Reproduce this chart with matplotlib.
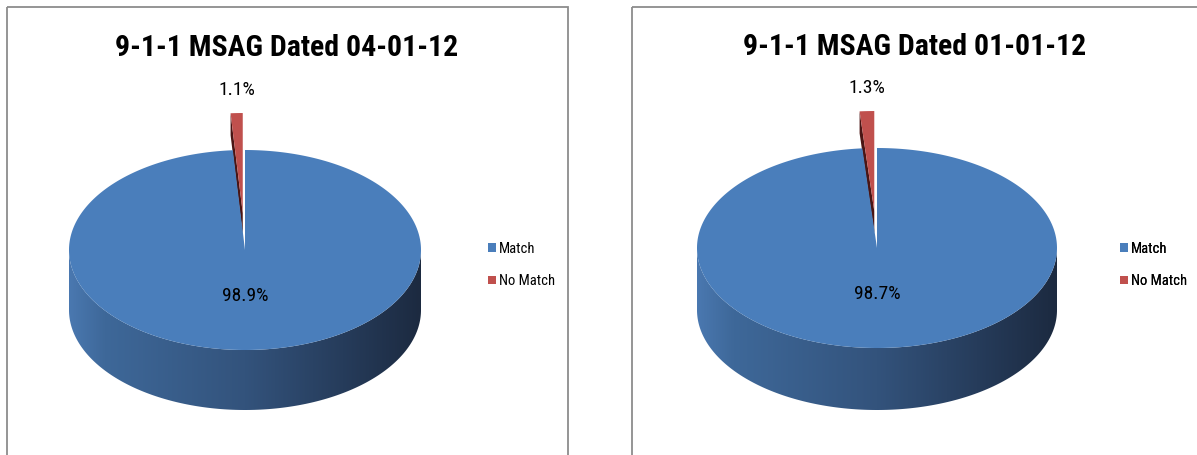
import numpy as np
import matplotlib
matplotlib.use("Agg")
import matplotlib.pyplot as plt
from matplotlib.patches import Polygon, Rectangle, Patch
from matplotlib.colors import LinearSegmentedColormap

# ---------------- data ----------------
titles = ["9-1-1 MSAG Dated 04-01-12", "9-1-1 MSAG Dated 01-01-12"]
categories = ["Match", "No Match"]
match_pct = [98.9, 98.7]
nomatch_pct = [1.1, 1.3]
slice_colors = ["#4A7EBB", "#C0504D"]

FONT = ['Roboto Condensed', 'DejaVu Sans']

W, H = 1197, 455
fig = plt.figure(figsize=(W / 100, H / 100), dpi=100)
ax = fig.add_axes([0, 0, 1, 1])
ax.set_xlim(0, W)
ax.set_ylim(H, 0)
ax.axis('off')

panels = [
    dict(x0=7, x1=568, cx=245, cy=250, a=176, b=100, depth=60, legx=488, tx=287, ty=48),
    dict(x0=632, x1=1198, cx=877, cy=248, a=180, b=100, depth=62, legx=1120, tx=915, ty=47),
]

side_cmap = LinearSegmentedColormap.from_list(
    "side", [(0.0, "#4a78b0"), (0.1, "#3e6899"), (0.5, "#33537c"),
             (0.78, "#263c5b"), (1.0, "#1c2a40")])


def pt(p, theta_deg, dx=0.0, dy=0.0):
    t = np.radians(theta_deg)
    return (p['cx'] + dx + p['a'] * np.cos(t),
            p['cy'] + dy - p['b'] * np.sin(t))


for i, p in enumerate(panels):
    vals = [match_pct[i], nomatch_pct[i]]
    total = sum(vals)
    # panel frame
    ax.add_patch(Rectangle((p['x0'], 7), p['x1'] - p['x0'], 600, fill=False,
                           edgecolor='#8c8c8c', lw=1.3))
    ax.text(p['tx'], p['ty'], titles[i], ha='center', va='center',
            fontsize=21.5, fontweight='bold', family=FONT, color='black')

    # slice angles: start at 12 o'clock, clockwise
    start = 90.0
    span_match = 360.0 * vals[0] / total
    end_match = start - span_match            # blue from 90 clockwise to end_match
    red_a0 = end_match + 360.0               # e.g. 93.96
    red_a1 = start                           # 90
    mid = (red_a0 + red_a1) / 2.0
    e = 0.37
    dx = e * p['a'] * np.cos(np.radians(mid))
    dy = -e * p['b'] * np.sin(np.radians(mid))

    # ---- exploded red slice ----
    apex = (p['cx'] + dx, p['cy'] + dy)
    rim_hi = pt(p, red_a0, dx=dx, dy=dy)
    k = 22
    dark_face = [apex, rim_hi, (rim_hi[0], rim_hi[1] + k), (apex[0], apex[1] + k)]
    ax.add_patch(Polygon(dark_face, closed=True, facecolor='#4a1514', edgecolor='none'))
    th = np.linspace(red_a1, red_a0, 20)
    red_top = [apex] + [pt(p, t, dx=dx, dy=dy) for t in th]
    ax.add_patch(Polygon(red_top, closed=True, facecolor=slice_colors[1], edgecolor='none'))

    # ---- blue slice side (front half) with horizontal gradient ----
    th_f = np.linspace(180, 360, 200)
    top_arc = [pt(p, t) for t in th_f]
    bot_arc = [(x, y + p['depth']) for (x, y) in top_arc[::-1]]
    side_poly = Polygon(top_arc + bot_arc, closed=True, facecolor='none', edgecolor='none')
    ax.add_patch(side_poly)
    grad = np.linspace(0, 1, 256).reshape(1, -1)
    im = ax.imshow(grad, cmap=side_cmap, aspect='auto', interpolation='bilinear',
                   extent=(p['cx'] - p['a'], p['cx'] + p['a'],
                           p['cy'] + p['b'] + p['depth'] + 2, p['cy'] - 2),
                   zorder=1)
    im.set_clip_path(side_poly)

    # ---- blue slice top ----
    th_b = np.linspace(start, end_match, 400)
    blue_top = [(p['cx'], p['cy'])] + [pt(p, t) for t in th_b]
    ax.add_patch(Polygon(blue_top, closed=True, facecolor=slice_colors[0],
                         edgecolor='none', zorder=2))

    # ---- data labels ----
    ax.text(p['cx'], p['cy'] + 46, f"{vals[0]:.1f}%", ha='center', va='center',
            fontsize=14, family=FONT, color='black', zorder=3)
    lx, ly = pt(p, mid, dx=dx, dy=dy)
    ax.text(lx, ly - 23, f"{vals[1]:.1f}%", ha='center', va='center',
            fontsize=14, family=FONT, color='black', zorder=3)

    # ---- legend ----
    handles = [Patch(facecolor=c, edgecolor='none') for c in slice_colors]
    leg = ax.legend(handles, categories, loc='center left',
                    bbox_to_anchor=(p['legx'], 265), bbox_transform=ax.transData,
                    frameon=False, prop={'family': FONT, 'size': 10.5},
                    handlelength=0.55, handleheight=0.55, handletextpad=0.2,
                    labelspacing=1.25, borderpad=0, borderaxespad=0)
    ax.add_artist(leg)

fig.savefig("out.png", dpi=100)
